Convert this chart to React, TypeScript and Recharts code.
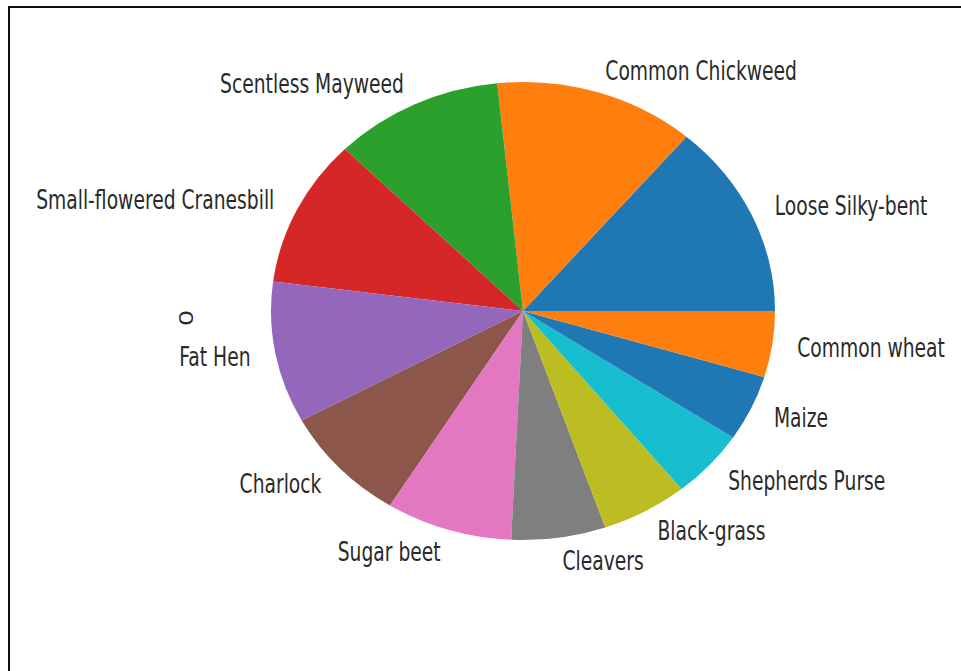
import { PieChart, Pie, Cell } from "recharts";

const SPECIES = [
  "Loose Silky-bent",
  "Common Chickweed",
  "Scentless Mayweed",
  "Small-flowered Cranesbill",
  "Fat Hen",
  "Charlock",
  "Sugar beet",
  "Cleavers",
  "Black-grass",
  "Shepherds Purse",
  "Maize",
  "Common wheat",
];
const COUNTS = [654, 611, 516, 496, 475, 390, 385, 287, 263, 231, 221, 221];
const TAB10 = [
  "#1f77b4", "#ff7f0e", "#2ca02c", "#d62728", "#9467bd",
  "#8c564b", "#e377c2", "#7f7f7f", "#bcbd22", "#17becf",
];

const rows = SPECIES.map((name, i) => ({ name, value: COUNTS[i] }));

// matplotlib pie is squashed into an ellipse; sectors are scaled by CSS below
const RX = 252;
const RY = 229;
const CX = 523;
const CY = 311;
// the screenshot is squeezed horizontally, so text is too
const SQUEEZE = 0.72;
const FONT = "'DejaVu Sans', sans-serif";

function renderLabel(p: any) {
  const rad = (p.midAngle * Math.PI) / 180;
  const x = p.cx + 1.1 * RX * Math.cos(rad);
  const y = p.cy - 1.1 * RY * Math.sin(rad);
  return (
    <text
      key={p.name}
      transform={`translate(${x},${y}) scale(${SQUEEZE},1)`}
      textAnchor={x > p.cx ? "start" : "end"}
      dominantBaseline="central"
      fontFamily={FONT}
      fontSize={26}
      fill="#2a2a2a"
    >
      {p.name}
    </text>
  );
}

export default function App() {
  return (
    <div style={{ position: "fixed", left: 0, top: 0, width: 961, height: 671, background: "#fff" }}>
      <style>{`.recharts-pie-sector { transform-origin: ${CX}px ${CY}px; transform: scaleY(${RY / RX}); }`}</style>
      {/* frame of the screenshot: top and left edges only */}
      <div style={{ position: "absolute", left: 8, top: 6, width: 953, height: 2, background: "#111" }} />
      <div style={{ position: "absolute", left: 8, top: 6, width: 2, height: 665, background: "#111" }} />
      <div style={{ position: "absolute", left: 0, top: 0 }}>
        <PieChart width={961} height={671} margin={{ top: 0, right: 0, bottom: 0, left: 0 }}>
          <Pie
            data={rows}
            dataKey="value"
            nameKey="name"
            cx={CX}
            cy={CY}
            outerRadius={RX}
            startAngle={0}
            endAngle={360}
            stroke="none"
            label={renderLabel}
            labelLine={false}
            isAnimationActive={false}
          >
            {rows.map((_, i) => (
              <Cell key={i} fill={TAB10[i % TAB10.length]} />
            ))}
          </Pie>
          <text
            transform={`translate(186,318) scale(${SQUEEZE},1) rotate(-90)`}
            textAnchor="middle"
            dominantBaseline="central"
            fontFamily={FONT}
            fontSize={26}
            fill="#2a2a2a"
          >
            0
          </text>
        </PieChart>
      </div>
    </div>
  );
}
